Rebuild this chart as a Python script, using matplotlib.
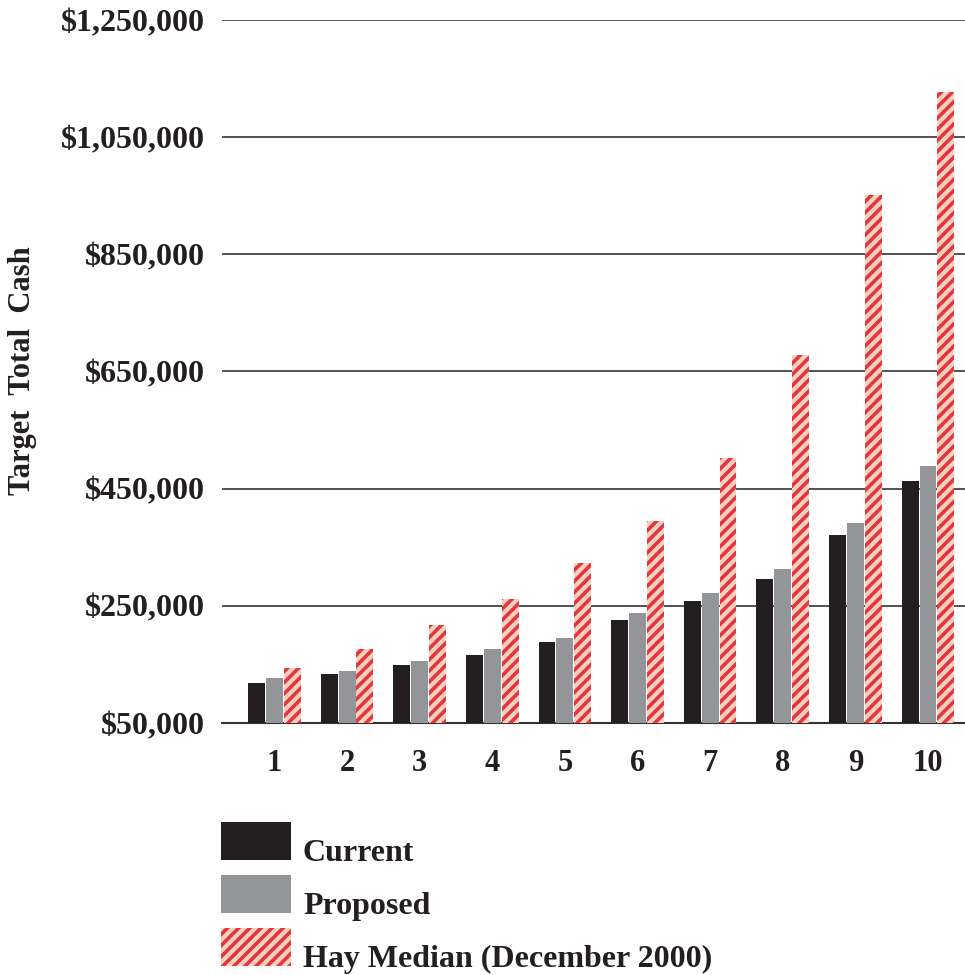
import matplotlib.pyplot as plt
from matplotlib.patches import Rectangle
from matplotlib.ticker import FuncFormatter
import numpy as np

grades = [1, 2, 3, 4, 5, 6, 7, 8, 9, 10]
current = [118000, 134000, 149000, 166000, 188000, 226000, 258000, 296000, 371000, 463000]
proposed = [126000, 139000, 156000, 176000, 195000, 237000, 272000, 312000, 391000, 489000]
hay_median = [144000, 176000, 217000, 262000, 323000, 394000, 502000, 678000, 951000, 1127000]
yticks = [50000, 250000, 450000, 650000, 850000, 1050000, 1250000]
labels = ['Current', 'Proposed', 'Hay Median (December 2000)']

plt.rcParams['font.family'] = ['Liberation Serif', 'DejaVu Serif']
plt.rcParams['font.weight'] = 'bold'
plt.rcParams['hatch.linewidth'] = 2.6

BLACK = '#231f20'
GREY = '#939598'
PINK = '#f8d0c2'
RED = '#e2373c'

W, H = 965, 975
fig = plt.figure(figsize=(W / 100, H / 100), dpi=100)
ax = fig.add_axes([0.230, 0.2585, 0.770, 0.721])

x = np.array(grades)
w = 0.233
step = 0.246
ax.bar(x - step, current, w, color=BLACK, zorder=3)
ax.bar(x, proposed, w, color=GREY, zorder=3)
ax.bar(x + step, hay_median, w, facecolor=PINK, edgecolor=RED,
       hatch='///', linewidth=0, zorder=3)

ax.set_xlim(0.277, 10.51)
ax.set_ylim(50000, 1250000)
ax.set_yticks(yticks)
ax.yaxis.set_major_formatter(FuncFormatter(lambda v, p: '${:,.0f}'.format(v)))
ax.set_xticks(grades)
ax.tick_params(axis='y', length=0, pad=12, labelsize=23, labelcolor=BLACK)
ax.tick_params(axis='x', length=0, pad=19, labelsize=22, labelcolor=BLACK)
ax.grid(axis='y', color='#444444', linewidth=1.3, zorder=0)
for s in ['top', 'right', 'left']:
    ax.spines[s].set_visible(False)
ax.spines['bottom'].set_color('#333333')
ax.spines['bottom'].set_linewidth(1.5)

fig.text(0.023, 0.62, 'Target  Total  Cash', rotation=90, va='center', ha='center',
         fontsize=22, color=BLACK)

# legend, drawn by hand
styles = [dict(facecolor=BLACK), dict(facecolor=GREY),
          dict(facecolor=PINK, edgecolor=RED, hatch='///', linewidth=0)]
for i, (lab, st) in enumerate(zip(labels, styles)):
    top = 822 + 53 * i
    fig.add_artist(Rectangle((221 / W, 1 - (top + 38) / H), 70 / W, 38 / H,
                             transform=fig.transFigure, **st))
    fig.text(303 / W, 1 - (top + 39) / H, lab, fontsize=23, color=BLACK,
             va='baseline', ha='left')

fig.savefig('out.png', dpi=100)
